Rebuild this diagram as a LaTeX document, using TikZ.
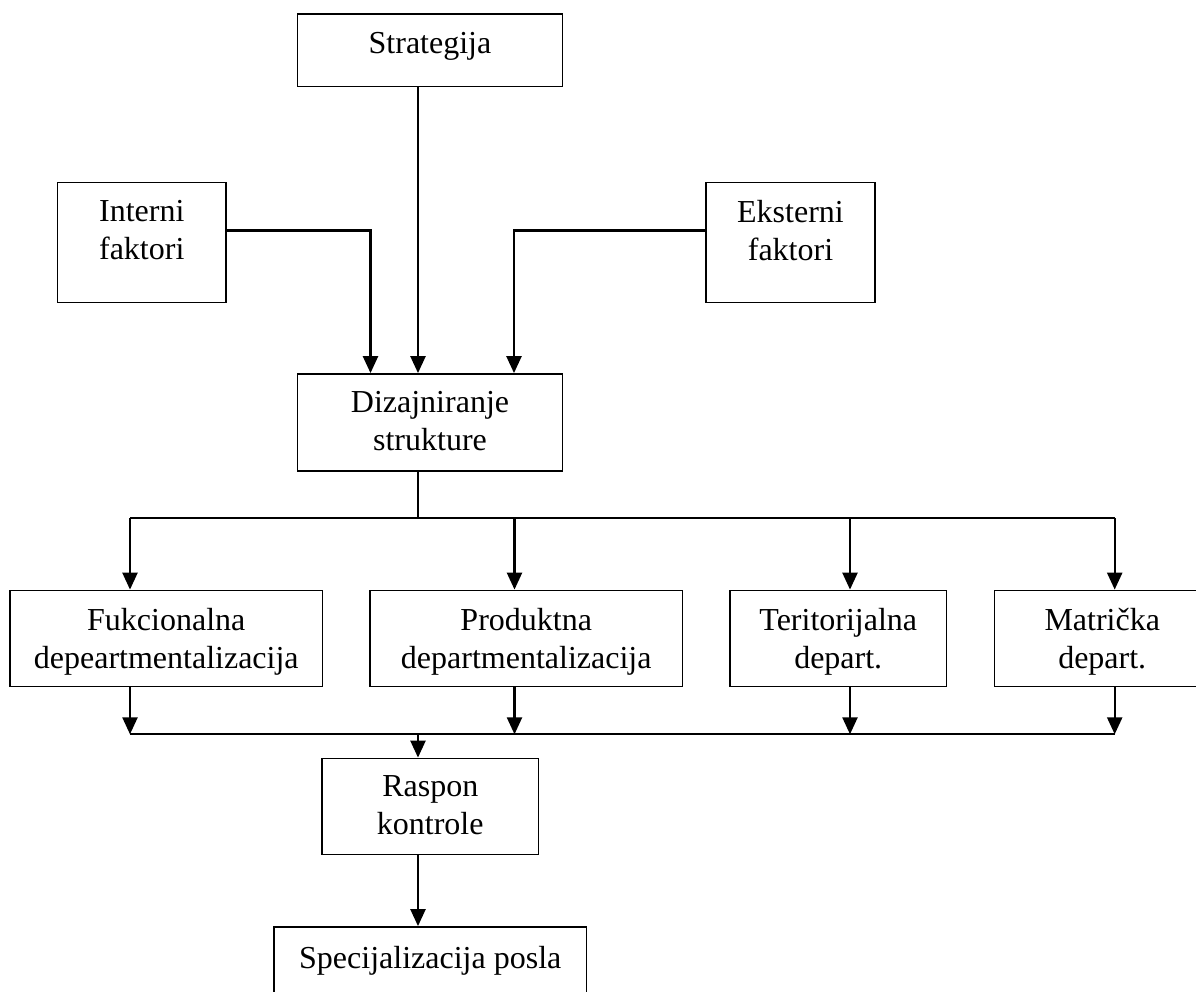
\documentclass[tikz,border=0pt]{standalone}
\usepackage{fontspec}
\setmainfont{Liberation Serif}
\usetikzlibrary{arrows.meta}
\begin{document}
\begin{tikzpicture}[x=0.5pt,y=-0.5pt,
  box/.style={draw, line width=0.9pt, inner sep=0pt},
  lbl/.style={anchor=north, inner sep=0pt, align=center,
    font=\fontsize{16}{19}\selectfont},
  link/.style={line width=1pt},
  arr/.style={line width=1.2pt, -{Triangle[length=8.5pt,width=7.5pt]}}]
\useasboundingbox (0,0) rectangle (1196,992);
\clip (0,0) rectangle (1196,992);

% boxes
\node[box, minimum width=132.5pt, minimum height=36.25pt] (strat) at (430,50.25) {};
\node[box, minimum width=84.25pt, minimum height=60pt] (intern) at (141.75,242.5) {};
\node[box, minimum width=84.5pt, minimum height=60pt] (ekstern) at (790.5,242.5) {};
\node[box, minimum width=132.5pt, minimum height=48.5pt] (dizajn) at (430,422.5) {};
\node[box, minimum width=156.25pt, minimum height=48pt] (fuk) at (166.25,638.5) {};
\node[box, minimum width=156.25pt, minimum height=48pt] (prod) at (526.25,638.5) {};
\node[box, minimum width=108.25pt, minimum height=48pt] (teri) at (838.25,638.5) {};
\node[box, minimum width=107.75pt, minimum height=48pt] (matr) at (1102.25,638.5) {};
\node[box, minimum width=108.25pt, minimum height=48pt] (raspon) at (430.25,806.5) {};
\node[box, minimum width=156.25pt, minimum height=46.5pt] (spec) at (430.25,973.5) {};

% texts
\node[lbl] (tstrat) at ([yshift=-9.5pt]strat.north) {Strategija};
\node[lbl] (tintern) at ([yshift=-9pt]intern.north) {Interni\\faktori};
\node[lbl] (tekstern) at ([yshift=-9pt]ekstern.north) {Eksterni\\faktori};
\node[lbl] (tdizajn) at ([yshift=-9pt]dizajn.north) {Dizajniranje\\strukture};
\node[lbl] (tfuk) at ([yshift=-9pt]fuk.north) {Fukcionalna\\depeartmentalizacija};
\node[lbl] (tprod) at ([yshift=-9pt]prod.north) {Produktna\\departmentalizacija};
\node[lbl] (tteri) at ([yshift=-9pt]teri.north) {Teritorijalna\\depart.};
\node[lbl] (tmatr) at ([yshift=-9pt]matr.north) {Matrička\\depart.};
\node[lbl] (traspon) at ([yshift=-9pt]raspon.north) {Raspon\\kontrole};
\node[lbl] (tspec) at ([yshift=-10pt]spec.north) {Specijalizacija posla};

% routing points
\coordinate (axis) at (418,0);
\coordinate (side) at (0,230.3);
\coordinate (ix) at (370.5,0);
\coordinate (ex) at (514,0);
\coordinate (s1) at (130,518.3);
\coordinate (s2) at (514.5,518.3);
\coordinate (s3) at (850,518.3);
\coordinate (s4) at (1114.7,518.3);
\coordinate (split) at (418,518.3);
\coordinate (j1) at (130,734.3);
\coordinate (j2) at (514.5,734.3);
\coordinate (j3) at (850,734.3);
\coordinate (j4) at (1114.7,734.3);
\coordinate (join) at (418,734.3);

% inputs to the design box
\draw[arr] (strat.south -| axis) -- (dizajn.north -| axis);
\draw[arr] (intern.east |- side) -| (dizajn.north -| ix);
\draw[arr] (ekstern.west |- side) -| (dizajn.north -| ex);

% fan-out to departmentalization types
\draw[link] (dizajn.south -| axis) -- (split);
\draw[link] (s1) -- (s4);
\draw[arr] (s1) -- (fuk.north -| s1);
\draw[arr] (s2) -- (prod.north -| s2);
\draw[arr] (s3) -- (teri.north -| s3);
\draw[arr] (s4) -- (matr.north -| s4);

% collecting line
\draw[arr] (fuk.south -| j1) -- (j1);
\draw[arr] (prod.south -| j2) -- (j2);
\draw[arr] (teri.south -| j3) -- (j3);
\draw[arr] (matr.south -| j4) -- (j4);
\draw[link] (j1) -- (j4);
\draw[arr] (join) -- (raspon.north -| join);
\draw[arr] (raspon.south -| axis) -- (spec.north -| axis);
\end{tikzpicture}
\end{document}
